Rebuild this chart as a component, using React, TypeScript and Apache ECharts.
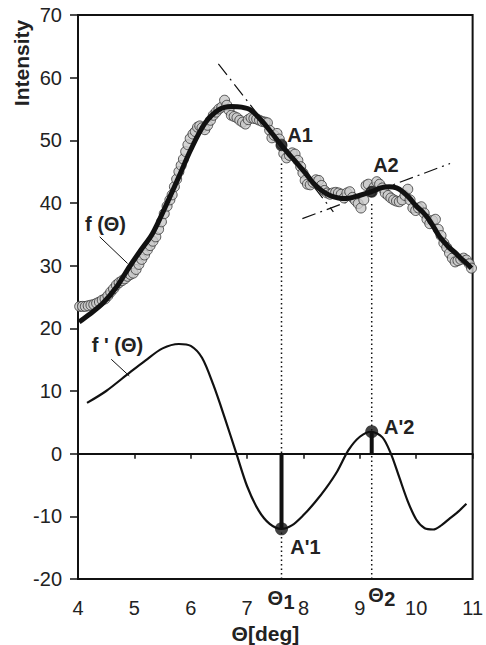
import React, { useEffect, useRef } from "react";
import * as echarts from "echarts";

// Measured intensity points [theta (deg), intensity]
const measured: number[][] = [
  [4.03, 23.5], [4.08, 23.5], [4.13, 23.5], [4.18, 23.6], [4.23, 23.7], [4.28, 23.8],
  [4.33, 24.0], [4.38, 24.2], [4.43, 24.5], [4.48, 24.7], [4.53, 25.2], [4.58, 25.8],
  [4.63, 26.3], [4.68, 26.9], [4.73, 27.3], [4.78, 27.6], [4.83, 27.9], [4.88, 28.3],
  [4.93, 28.6], [4.98, 28.8], [5.03, 29.4], [5.08, 30.2], [5.13, 31.0], [5.18, 31.7],
  [5.23, 32.5], [5.28, 33.2], [5.33, 33.9], [5.38, 34.6], [5.43, 35.8], [5.48, 37.0],
  [5.53, 38.3], [5.58, 39.5], [5.63, 40.5], [5.67, 41.3], [5.71, 42.6], [5.75, 43.8],
  [5.79, 45.0], [5.83, 46.0], [5.87, 47.0], [5.91, 48.2], [5.95, 49.3], [5.99, 50.3],
  [6.04, 51.0], [6.08, 51.4], [6.12, 52.1], [6.16, 52.3], [6.2, 52.0], [6.25, 51.7],
  [6.3, 52.4], [6.35, 53.2], [6.4, 54.0], [6.45, 54.5], [6.5, 55.0], [6.55, 55.3],
  [6.6, 56.4], [6.64, 55.6], [6.68, 54.8], [6.72, 54.0], [6.77, 53.8], [6.82, 53.6],
  [6.87, 53.2], [6.92, 52.9], [6.97, 52.6], [7.02, 53.3], [7.07, 53.6], [7.12, 53.5],
  [7.17, 53.4], [7.22, 53.2], [7.27, 53.0], [7.32, 52.9], [7.36, 52.8], [7.4, 51.6],
  [7.44, 50.4], [7.48, 50.8], [7.53, 51.1], [7.57, 50.2], [7.61, 49.4], [7.65, 47.9],
  [7.7, 47.2], [7.75, 47.6], [7.8, 48.0], [7.85, 47.8], [7.9, 46.8], [7.95, 45.8],
  [7.99, 44.8], [8.03, 43.6], [8.07, 43.0], [8.12, 42.9], [8.17, 43.3], [8.22, 43.7],
  [8.27, 43.6], [8.32, 42.8], [8.37, 42.0], [8.42, 41.6], [8.47, 41.4], [8.52, 41.6],
  [8.57, 41.7], [8.62, 41.6], [8.67, 41.4], [8.72, 40.8], [8.77, 41.6], [8.82, 41.8],
  [8.87, 40.9], [8.92, 40.4], [8.97, 39.9], [9.02, 39.2], [9.07, 40.5], [9.11, 42.8],
  [9.15, 43.0], [9.2, 41.8], [9.25, 42.5], [9.3, 43.4], [9.35, 43.0], [9.4, 42.4],
  [9.45, 41.6], [9.5, 41.2], [9.55, 40.8], [9.6, 40.5], [9.65, 40.3], [9.7, 40.2],
  [9.75, 40.5], [9.8, 41.2], [9.85, 42.2], [9.89, 40.5], [9.94, 39.2], [9.99, 38.8],
  [10.04, 39.2], [10.09, 39.4], [10.14, 38.4], [10.19, 37.4], [10.24, 36.7], [10.29, 37.2],
  [10.34, 37.4], [10.39, 35.8], [10.44, 34.8], [10.49, 33.6], [10.54, 32.9], [10.59, 32.0],
  [10.64, 31.2], [10.69, 30.6], [10.74, 30.8], [10.79, 31.0], [10.84, 31.2], [10.89, 30.9],
  [10.94, 30.3], [10.98, 29.6],
];

// Fitted function f(theta)
const fitCurve: number[][] = [
  [4.02, 21.0], [4.2, 22.2], [4.44, 24.0], [4.7, 26.8], [4.91, 29.8], [5.1, 32.3],
  [5.32, 35.1], [5.55, 39.4], [5.79, 44.2], [6.0, 48.5], [6.25, 52.7], [6.5, 54.9],
  [6.72, 55.4], [6.9, 55.3], [7.07, 54.8], [7.3, 52.7], [7.45, 51.0], [7.61, 49.2],
  [7.75, 47.7], [7.89, 46.3], [8.05, 44.6], [8.18, 43.1], [8.32, 42.0], [8.47, 41.2],
  [8.62, 40.8], [8.76, 40.7], [8.99, 41.2], [9.21, 41.8], [9.37, 42.4], [9.52, 42.6],
  [9.65, 42.4], [9.76, 41.8], [9.88, 40.8], [9.99, 39.6], [10.12, 38.5], [10.23, 37.3],
  [10.32, 36.0], [10.4, 34.8], [10.49, 33.8], [10.57, 33.0], [10.7, 32.0], [10.8, 31.1],
  [10.9, 30.3], [10.98, 29.6],
];

// Derivative f'(theta)
const derivCurve: number[][] = [
  [4.16, 8.1], [4.5, 10.0], [4.91, 12.9], [5.2, 14.9], [5.5, 16.8], [5.79, 17.5],
  [6.0, 17.2], [6.2, 15.3], [6.4, 11.0], [6.6, 5.8], [6.81, 0], [7.0, -5.2],
  [7.2, -9.0], [7.4, -11.2], [7.61, -12.0], [7.8, -11.4], [8.0, -9.8], [8.2, -7.8],
  [8.4, -5.5], [8.6, -2.8], [8.8, 0.6], [9.0, 2.7], [9.2, 3.5], [9.4, 2.6],
  [9.55, 0], [9.7, -3.8], [9.85, -7.6], [10.0, -10.5], [10.15, -11.9], [10.3, -12.1],
  [10.45, -11.4], [10.6, -10.3], [10.75, -9.2], [10.89, -8.0],
];

const theta1 = 7.61;
const theta2 = 9.21;
const pointA1 = [theta1, 49.2];
const pointA2 = [theta2, 41.8];
const pointAp1 = [theta1, -12.0];
const pointAp2 = [theta2, 3.5];
const tangent1: number[][] = [[6.49, 62.2], [8.53, 38.6]];
const tangent2: number[][] = [[7.98, 37.5], [10.6, 46.3]];
const dropTop1 = 46.8;
const dropTop2 = 40.0;
const leaderF: number[][] = [[4.385, 34.6], [4.88, 30.35]];
const leaderFp: number[][] = [[4.59, 15.06], [4.91, 12.4]];

const X_MIN = 4, X_MAX = 11, X_STEP = 1;
const Y_MIN = -20, Y_MAX = 70, Y_STEP = 10;

const FONT = "'Liberation Sans', Arial, Helvetica, sans-serif";

export default function App() {
  const ref = useRef<HTMLDivElement>(null);
  useEffect(() => {
    if (!ref.current) return;
    const chart = echarts.init(ref.current, null, { renderer: "svg" });
    const lineSeries = (data: number[][], width: number, extra: any = {}) => ({
      type: "line",
      data,
      showSymbol: false,
      symbol: "none",
      silent: true,
      lineStyle: { color: "#111", width, ...(extra.lineStyle || {}) },
      z: extra.z ?? 3,
      smooth: extra.smooth ?? false,
    });
    chart.setOption({
      animation: false,
      backgroundColor: "#fff",
      textStyle: { fontFamily: FONT },
      grid: { left: 78, top: 15, width: 400, height: 564, show: true, borderColor: "#111", borderWidth: 2, backgroundColor: "transparent" },
      xAxis: {
        type: "value", min: X_MIN, max: X_MAX, interval: X_STEP,
        splitLine: { show: false },
        axisLine: { lineStyle: { color: "#111", width: 2 } },
        axisTick: { show: true, length: 5, lineStyle: { color: "#111", width: 1.5 } },
        axisLabel: { color: "#222", fontSize: 20, margin: 19, fontFamily: FONT },
      },
      yAxis: {
        type: "value", min: Y_MIN, max: Y_MAX, interval: Y_STEP,
        splitLine: { show: false },
        axisLine: { lineStyle: { color: "#111", width: 2 } },
        axisTick: { show: true, length: 8, lineStyle: { color: "#111", width: 1.5 } },
        axisLabel: { color: "#222", fontSize: 20, margin: 16, fontFamily: FONT },
      },
      series: [
        lineSeries([[X_MIN, 0], [X_MAX, 0]], 1, { z: 1 }),
        lineSeries([[theta1, Y_MIN], [theta1, dropTop1]], 1.5, { lineStyle: { type: [1.5, 3] }, z: 1 }),
        lineSeries([[theta2, Y_MIN], [theta2, dropTop2]], 1.5, { lineStyle: { type: [1.5, 3] }, z: 1 }),
        lineSeries(tangent1, 1.2, { lineStyle: { type: [14, 5, 2, 5] }, z: 1 }),
        lineSeries(tangent2, 1.2, { lineStyle: { type: [14, 5, 2, 5] }, z: 1 }),
        {
          type: "scatter",
          data: measured,
          symbol: "circle",
          symbolSize: 10,
          itemStyle: { color: "#c9c9c9", borderColor: "#333", borderWidth: 1 },
          z: 2,
          silent: true,
        },
        lineSeries(fitCurve, 5, { smooth: 0.3, z: 3 }),
        lineSeries(derivCurve, 2.2, { smooth: 0.3, z: 3 }),
        lineSeries([[theta1, 0], pointAp1], 4, { z: 4 }),
        lineSeries([[theta2, 0], pointAp2], 4, { z: 4 }),
        lineSeries(leaderF, 1, { z: 4 }),
        lineSeries(leaderFp, 1, { z: 4 }),
        {
          type: "scatter",
          data: [pointA1, pointA2],
          symbolSize: 12,
          itemStyle: { color: "#111" },
          z: 5,
          silent: true,
        },
        {
          type: "scatter",
          data: [pointAp1, pointAp2],
          symbolSize: 13,
          itemStyle: { color: "#111" },
          z: 5,
          silent: true,
        },
      ],
    });

    const px = (p: number[]) => chart.convertToPixel({ gridIndex: 0 }, p) as number[];
    const bold = { fontFamily: FONT, fontWeight: "bold", fontSize: 20, fill: "#222" };
    const txt = (text: string, p: number[], align = "left", extra: any = {}) => {
      const [x, y] = px(p);
      return { type: "text", x, y, z: 10, style: { text, textAlign: align, textVerticalAlign: "middle", ...bold, ...extra } };
    };
    const gridBottom = px([X_MIN, Y_MIN])[1];
    chart.setOption({
      graphic: [
        txt("A1", [7.713, 50.8]),
        txt("A2", [9.236, 46.0]),
        txt("A'1", [7.765, -14.9]),
        txt("A'2", [9.43, 4.3]),
        txt("f (Θ)", [4.123, 36.6]),
        txt("f ' (Θ)", [4.245, 17.3]),
        { type: "text", x: px([7.363, 0])[0], y: gridBottom + 19, z: 10, style: { text: "Θ", textAlign: "left", textVerticalAlign: "middle", ...bold } },
        { type: "text", x: px([7.363, 0])[0] + 16, y: gridBottom + 23, z: 10, style: { text: "1", textAlign: "left", textVerticalAlign: "middle", ...bold } },
        { type: "text", x: px([9.149, 0])[0], y: gridBottom + 16, z: 10, style: { text: "Θ", textAlign: "left", textVerticalAlign: "middle", ...bold } },
        { type: "text", x: px([9.149, 0])[0] + 16, y: gridBottom + 20, z: 10, style: { text: "2", textAlign: "left", textVerticalAlign: "middle", ...bold } },
        { type: "text", x: px([7.325, 0])[0], y: gridBottom + 54, z: 10, style: { text: "Θ[deg]", textAlign: "center", textVerticalAlign: "middle", ...bold, fontSize: 21 } },
        { type: "text", x: 21, y: 63, rotation: Math.PI / 2, z: 10, style: { text: "Intensity", textAlign: "center", textVerticalAlign: "middle", ...bold, fontSize: 21 } },
      ],
    });
    return () => chart.dispose();
  }, []);
  return <div ref={ref} style={{ position: "fixed", left: 0, top: 0, width: 486, height: 645, background: "#fff" }} />;
}
